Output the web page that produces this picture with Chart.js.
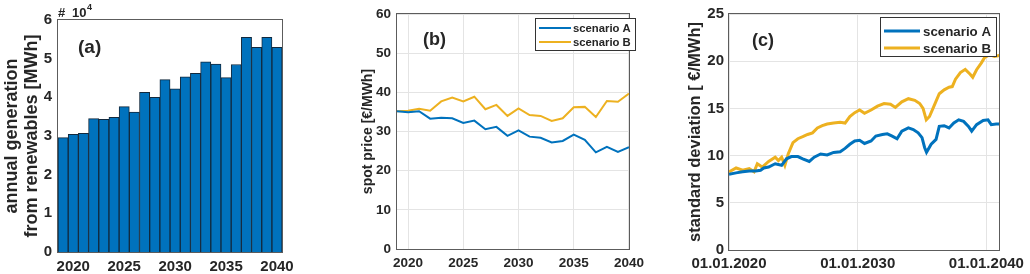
<!DOCTYPE html>
<html>
<head>
<meta charset="utf-8">
<script src="https://cdn.jsdelivr.net/npm/chart.js@4.4.1/dist/chart.umd.min.js"></script>
<style>
    body { margin: 0; background: #fff; }
    .wrap { position: relative; width: 1030px; height: 274px; }
    canvas { position: absolute; top: 0; }
</style>
</head>
<body>
<div class="wrap">
    <canvas id="genChart" width="300" height="274" style="left:0"></canvas>
    <canvas id="priceChart" width="320" height="274" style="left:330px"></canvas>
    <canvas id="stdChart" width="350" height="274" style="left:680px"></canvas>
</div>
<script>
// (a) annual generation from renewables [MWh]
const genYears = [2019, 2020, 2021, 2022, 2023, 2024, 2025, 2026, 2027, 2028, 2029,
                  2030, 2031, 2032, 2033, 2034, 2035, 2036, 2037, 2038, 2039, 2040];
const genMWh = [29600, 30400, 30700, 34500, 34300, 34800, 37600, 36200, 41300, 40000, 44600,
                42200, 45300, 46200, 49200, 48600, 45100, 48500, 55500, 52900, 55500, 52900];
const genTicks = [0, 10000, 20000, 30000, 40000, 50000, 60000];

// (b) spot price [€/MWh]
const priceYears = genYears;
const priceA = [35.2, 34.9, 35.2, 33.3, 33.5, 33.4, 32.2, 32.8, 30.6, 31.2, 28.9,
                30.3, 28.7, 28.4, 27.2, 27.6, 29.2, 27.9, 24.7, 26.1, 24.8, 26.0];
const priceB = [35.2, 35.3, 35.8, 35.3, 37.7, 38.7, 37.7, 38.9, 35.7, 36.8, 34.0,
                35.9, 34.2, 34.0, 32.7, 33.4, 36.2, 36.3, 33.7, 37.8, 37.6, 39.7];
const yearTicks = [2020, 2025, 2030, 2035, 2040];

// (c) standard deviation [€/MWh], time in decimal years
const stdTimeA = [2020.0, 2020.55, 2021.06, 2021.57, 2022.07, 2022.45, 2022.7, 2023.08, 2023.59, 2024.09,
                  2024.47, 2024.85, 2025.35, 2025.73, 2026.24, 2026.62, 2027.12, 2027.63, 2028.13, 2028.64,
                  2029.02, 2029.39, 2029.77, 2030.15, 2030.53, 2031.04, 2031.41, 2031.92, 2032.3, 2032.68,
                  2033.06, 2033.43, 2033.94, 2034.32, 2034.7, 2035.0, 2035.2, 2035.35, 2035.71, 2036.09,
                  2036.34, 2036.72, 2037.1, 2037.47, 2037.85, 2038.23, 2038.61, 2038.86, 2039.24, 2039.75,
                  2040.13, 2040.38, 2040.76, 2041.0];
const stdA = [8.03, 8.17, 8.28, 8.38, 8.38, 8.45, 8.69, 8.79, 9.14, 8.97,
              9.66, 9.9, 9.9, 9.66, 9.38, 9.83, 10.17, 10.07, 10.34, 10.41,
              10.76, 11.2, 11.55, 11.62, 11.28, 11.55, 12.07, 12.24, 12.31, 12.07,
              11.79, 12.59, 12.93, 12.76, 12.41, 11.9, 10.86, 10.35, 11.2, 11.72,
              13.1, 13.17, 12.93, 13.45, 13.79, 13.62, 13.1, 12.59, 13.28, 13.72,
              13.79, 13.28, 13.34, 13.34];
const stdTimeB = [2020.0, 2020.55, 2021.06, 2021.57, 2021.95, 2022.2, 2022.58, 2023.08, 2023.59, 2023.84,
                  2024.09, 2024.34, 2024.6, 2024.97, 2025.35, 2025.73, 2026.11, 2026.49, 2026.87, 2027.25,
                  2027.63, 2028.13, 2028.64, 2029.02, 2029.39, 2029.77, 2030.15, 2030.53, 2031.04, 2031.54,
                  2032.05, 2032.55, 2032.93, 2033.43, 2033.94, 2034.44, 2034.82, 2035.08, 2035.33, 2035.58,
                  2035.96, 2036.34, 2036.72, 2037.1, 2037.35, 2037.6, 2037.98, 2038.36, 2038.74, 2038.94,
                  2039.24, 2039.6, 2039.87, 2040.25, 2040.63, 2041.0];
const stdB = [8.28, 8.69, 8.45, 8.62, 8.28, 9.14, 8.79, 9.38, 9.83, 9.48,
              9.83, 8.97, 10.17, 11.38, 11.79, 12.0, 12.24, 12.41, 12.93, 13.17,
              13.34, 13.45, 13.52, 13.45, 14.14, 14.55, 14.83, 14.48, 14.83, 15.24,
              15.52, 15.45, 15.1, 15.69, 16.03, 15.86, 15.52, 15.0, 13.79, 14.14,
              15.34, 16.55, 16.97, 17.24, 17.31, 18.1, 18.79, 19.14, 18.62, 18.3,
              19.1, 19.8, 20.4, 20.7, 20.5, 20.6];
const stdTicks = [2020, 2025, 2030, 2035, 2040];

const BLUE = '#0072BD';
const ORANGE = '#EDB120';
const TEXT = '#262626';
const GRID = '#e4e4e4';
const FONT = "'Liberation Sans', Arial, sans-serif";

// axes box, rotated y title, panel tag and legend drawn by hand
const panelDecor = {
    id: 'panelDecor',
    afterDraw(chart, args, opts) {
        const ctx = chart.ctx;
        const a = chart.chartArea;
        ctx.save();
        ctx.strokeStyle = '#5c5c5c';
        ctx.lineWidth = 1;
        ctx.strokeRect(Math.round(a.left) - 0.5, Math.round(a.top) - 0.5,
                       Math.round(a.right - a.left) + 1, Math.round(a.bottom - a.top) + 1);

        ctx.fillStyle = TEXT;
        ctx.font = opts.titleFont;
        ctx.textAlign = 'center';
        ctx.textBaseline = 'middle';
        opts.title.forEach((line, i) => {
            ctx.save();
            ctx.translate(opts.titleX[i], (a.top + a.bottom) / 2);
            ctx.rotate(-Math.PI / 2);
            ctx.fillText(line, 0, 0);
            ctx.restore();
        });

        ctx.textAlign = 'left';
        ctx.textBaseline = 'alphabetic';
        ctx.font = opts.tagFont;
        ctx.fillText(opts.tag, opts.tagX, opts.tagY);

        if (opts.exponent) {
            ctx.font = 'bold 13px ' + FONT;
            ctx.fillText('#', a.left, 17);
            ctx.fillText('10', a.left + 14, 17);
            ctx.font = 'bold 9px ' + FONT;
            ctx.fillText('4', a.left + 29, 10);
        }

        const lg = opts.legend;
        if (lg) {
            ctx.fillStyle = '#fff';
            ctx.fillRect(lg.x, lg.y, lg.w, lg.h);
            ctx.strokeStyle = '#333';
            ctx.strokeRect(lg.x + 0.5, lg.y + 0.5, lg.w, lg.h);
            ctx.font = lg.font;
            ctx.textBaseline = 'middle';
            chart.data.datasets.forEach((ds, i) => {
                const y = lg.rows[i];
                ctx.strokeStyle = ds.borderColor;
                ctx.lineWidth = lg.lineWidth;
                ctx.beginPath();
                ctx.moveTo(lg.lineX0, y);
                ctx.lineTo(lg.lineX1, y);
                ctx.stroke();
                ctx.fillStyle = TEXT;
                ctx.fillText(ds.label, lg.textX, y + 1);
            });
        }
        ctx.restore();
    }
};

Chart.defaults.font.family = FONT;
Chart.defaults.color = TEXT;

function fixWidth(w) { return scale => { scale.width = w; }; }
function fixHeight(h) { return scale => { scale.height = h; }; }

// Bar chart (a)
new Chart(document.getElementById('genChart'), {
    type: 'bar',
    data: {
        labels: genYears,
        datasets: [{
            data: genMWh,
            backgroundColor: BLUE,
            borderColor: '#12293d',
            borderWidth: 1,
            barPercentage: 1,
            categoryPercentage: 1
        }]
    },
    options: {
        responsive: false,
        animation: false,
        layout: { autoPadding: false, padding: { left: 0, right: 13, top: 20, bottom: 0 } },
        plugins: {
            legend: { display: false },
            tooltip: { enabled: false },
            panelDecor: {
                title: ['annual generation', 'from renewables [MWh]'],
                titleX: [12, 32],
                titleFont: 'bold 18px ' + FONT,
                tag: '(a)', tagX: 78, tagY: 53, tagFont: 'bold 19px ' + FONT,
                exponent: true
            }
        },
        scales: {
            x: {
                grid: { display: false, drawTicks: false },
                border: { display: false },
                ticks: {
                    autoSkip: false, maxRotation: 0, padding: 6,
                    font: { size: 15, weight: 'bold' },
                    callback: (v, i) => genYears[i] % 5 === 0 ? String(genYears[i]) : ''
                },
                afterFit: fixHeight(22)
            },
            y: {
                min: 0, max: 60000,
                grid: { display: false, drawTicks: false },
                border: { display: false },
                afterBuildTicks: s => { s.ticks = genTicks.map(v => ({ value: v })); },
                ticks: { padding: 6, font: { size: 15, weight: 'bold' }, callback: v => v / 10000 },
                afterFit: fixWidth(58)
            }
        }
    },
    plugins: [panelDecor]
});

// Line chart (b)
new Chart(document.getElementById('priceChart'), {
    type: 'line',
    data: {
        datasets: [
            { label: 'scenario A', data: priceYears.map((x, i) => ({ x, y: priceA[i] })),
              borderColor: BLUE, borderWidth: 2, pointRadius: 0 },
            { label: 'scenario B', data: priceYears.map((x, i) => ({ x, y: priceB[i] })),
              borderColor: ORANGE, borderWidth: 2, pointRadius: 0 }
        ]
    },
    options: {
        responsive: false,
        animation: false,
        layout: { autoPadding: false, padding: { left: 0, right: 9, top: 7, bottom: 0 } },
        plugins: {
            legend: { display: false },
            tooltip: { enabled: false },
            panelDecor: {
                title: ['spot price [€/MWh]'],
                titleX: [38],
                titleFont: 'bold 14px ' + FONT,
                tag: '(b)', tagX: 93, tagY: 45, tagFont: 'bold 18px ' + FONT,
                legend: { x: 205, y: 18, w: 100, h: 32, rows: [28, 42], lineX0: 209, lineX1: 241,
                          textX: 243, font: 'bold 11.3px ' + FONT, lineWidth: 2 }
            }
        },
        scales: {
            x: {
                type: 'linear', min: 2019, max: 2040,
                grid: { color: GRID, drawTicks: false },
                border: { display: false },
                afterBuildTicks: s => { s.ticks = yearTicks.map(v => ({ value: v })); },
                ticks: { padding: 6, font: { size: 13.5, weight: 'bold' }, callback: v => String(v) },
                afterFit: fixHeight(25)
            },
            y: {
                min: 0, max: 60,
                grid: { color: GRID, drawTicks: false },
                border: { display: false },
                ticks: { stepSize: 10, padding: 6, font: { size: 13.5, weight: 'bold' } },
                afterFit: fixWidth(67)
            }
        }
    },
    plugins: [panelDecor]
});

// Line chart (c)
new Chart(document.getElementById('stdChart'), {
    type: 'line',
    data: {
        datasets: [
            { label: 'scenario A', data: stdTimeA.map((x, i) => ({ x, y: stdA[i] })),
              borderColor: BLUE, borderWidth: 3, pointRadius: 0 },
            { label: 'scenario B', data: stdTimeB.map((x, i) => ({ x, y: stdB[i] })),
              borderColor: ORANGE, borderWidth: 3, pointRadius: 0 }
        ]
    },
    options: {
        responsive: false,
        animation: false,
        layout: { autoPadding: false, padding: { left: 0, right: 23, top: 8, bottom: 0 } },
        plugins: {
            legend: { display: false },
            tooltip: { enabled: false },
            panelDecor: {
                title: ['standard deviation [ €/MWh]'],
                titleX: [15],
                titleFont: 'bold 16.5px ' + FONT,
                tag: '(c)', tagX: 72, tagY: 46, tagFont: 'bold 18px ' + FONT,
                legend: { x: 200, y: 17, w: 116, h: 39, rows: [31, 48], lineX0: 204, lineX1: 240,
                          textX: 243, font: 'bold 13.3px ' + FONT, lineWidth: 3 }
            }
        },
        scales: {
            x: {
                type: 'linear', min: 2020, max: 2041,
                grid: { color: GRID, drawTicks: false },
                border: { display: false },
                afterBuildTicks: s => { s.ticks = stdTicks.map(v => ({ value: v })); },
                ticks: {
                    padding: 5, maxRotation: 0, font: { size: 15, weight: 'bold' },
                    callback: v => v % 10 === 0 ? '01.01.' + v : ''
                },
                afterFit: fixHeight(24)
            },
            y: {
                min: 0, max: 25,
                grid: { color: GRID, drawTicks: false },
                border: { display: false },
                ticks: { stepSize: 5, padding: 5, font: { size: 15, weight: 'bold' } },
                afterFit: fixWidth(49)
            }
        }
    },
    plugins: [panelDecor]
});
</script>
</body>
</html>
